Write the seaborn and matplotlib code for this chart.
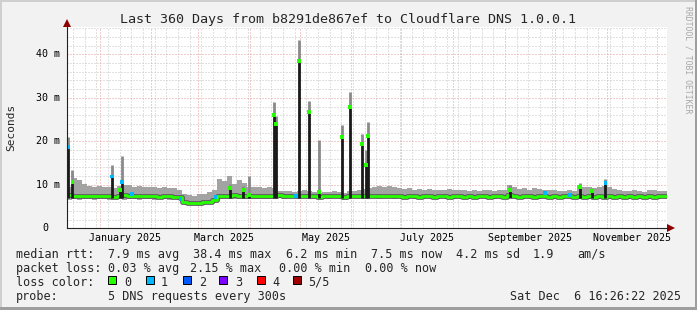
import numpy as np
import pandas as pd
import matplotlib
matplotlib.use("Agg")
import matplotlib.pyplot as plt
import matplotlib.dates as mdates
import matplotlib.transforms as mtransforms
from matplotlib.patches import Rectangle
import seaborn as sns

# ---------------- data ----------------
START = "2024-12-12 07:00"       # left edge of the 360-day window
BUCKET = "3D"                    # consolidation step of the series below

# light smoke (min..max of the 5 pings), ms
smoke_hi = [9.5, 11.5, 11.0, 10.2, 9.8, 9.6, 9.8, 9.5, 9.4, 9.2,
            9.8, 10.0, 9.9, 9.6, 9.8, 9.6, 9.5, 9.6, 9.3, 9.5,
            9.2, 9.3, 8.8, 7.8, 7.6, 7.5, 7.9, 8.0, 8.3, 8.9,
            11.4, 10.8, 12.0, 10.2, 11.0, 10.3, 9.6, 9.4, 9.5, 9.3,
            9.6, 9.3, 8.6, 8.5, 8.6, 8.4, 8.6, 8.7, 8.5, 8.3,
            8.2, 8.3, 8.4, 8.5, 8.4, 8.2, 8.5, 8.6, 8.8, 9.1,
            9.3, 9.6, 9.8, 9.4, 9.7, 9.5, 9.3, 9.0, 9.2, 8.9,
            9.1, 8.8, 9.0, 8.9, 8.7, 8.9, 9.1, 8.8, 8.7, 8.9,
            8.6, 8.8, 8.5, 8.7, 8.8, 8.6, 8.7, 8.9, 10.0, 9.4,
            9.0, 9.2, 8.9, 9.3, 9.0, 8.8, 8.7, 8.8, 8.5, 8.6,
            8.7, 8.5, 10.0, 9.4, 9.6, 9.2, 9.5, 9.8, 9.4, 9.0,
            8.8, 8.6, 8.5, 8.7, 8.6, 8.4, 8.8, 8.7, 8.5, 8.6]
smoke_lo = [6.6, 6.7, 6.6, 6.7, 6.7, 6.6, 6.7, 6.7, 6.6, 6.7,
            6.7, 6.6, 6.7, 6.7, 6.6, 6.7, 6.7, 6.6, 6.7, 6.7,
            6.6, 6.7, 6.5, 5.6, 5.6, 5.5, 5.6, 5.6, 5.7, 6.0,
            6.7, 6.8, 6.7, 6.8, 6.7, 6.8, 6.8, 6.7, 6.8, 6.8,
            6.7, 6.8, 6.9, 6.8, 6.9, 6.9, 6.8, 6.9, 6.9, 6.8,
            6.9, 6.9, 6.8, 6.9, 6.9, 6.6, 6.8, 6.9, 6.9, 6.8,
            6.9, 6.9, 6.8, 6.9, 6.9, 6.8, 6.9, 6.9, 6.9, 6.8,
            6.9, 6.9, 6.9, 6.8, 6.9, 6.9, 6.9, 6.8, 6.9, 6.9,
            6.9, 6.8, 6.9, 6.9, 6.9, 6.8, 6.9, 6.9, 6.9, 6.9,
            6.8, 6.9, 6.9, 6.9, 6.8, 6.9, 6.9, 6.9, 6.8, 6.9,
            6.9, 6.9, 6.8, 6.9, 6.9, 6.9, 6.8, 6.9, 6.9, 6.9,
            6.8, 6.9, 6.9, 6.9, 6.8, 6.9, 6.9, 6.9, 6.9, 6.9]
median_rtt = [7.7, 7.5, 7.4, 7.5, 7.4, 7.4, 7.5, 7.4, 7.4, 7.3,
              7.5, 7.6, 7.5, 7.4, 7.4, 7.5, 7.4, 7.4, 7.3, 7.4,
              7.4, 7.3, 7.1, 6.0, 5.9, 5.9, 5.9, 6.0, 6.1, 6.6,
              7.4, 7.5, 7.4, 7.6, 7.4, 7.5, 7.4, 7.5, 7.4, 7.4,
              7.5, 7.5, 7.6, 7.5, 7.5, 7.4, 7.5, 7.5, 7.4, 7.4,
              7.3, 7.4, 7.4, 7.5, 7.4, 7.2, 7.4, 7.5, 7.4, 7.4,
              7.4, 7.5, 7.4, 7.4, 7.5, 7.4, 7.4, 7.3, 7.4, 7.4,
              7.3, 7.4, 7.4, 7.3, 7.4, 7.4, 7.3, 7.4, 7.4, 7.3,
              7.4, 7.3, 7.4, 7.4, 7.3, 7.4, 7.4, 7.3, 7.6, 7.4,
              7.3, 7.4, 7.4, 7.3, 7.4, 7.4, 7.3, 7.4, 7.3, 7.4,
              7.4, 7.3, 7.5, 7.3, 7.4, 7.3, 7.4, 7.3, 7.4, 7.3,
              7.4, 7.3, 7.4, 7.3, 7.4, 7.3, 7.4, 7.3, 7.4, 7.4]

# short-lived latency spikes: median reached and top of the smoke, ms
spike_time = ["2024-12-13 06:00", "2024-12-15 18:00", "2025-01-08 12:00",
              "2025-01-13 00:00", "2025-01-14 12:00", "2025-03-20 07:00",
              "2025-03-28 02:00", "2025-03-31 14:00", "2025-04-15 07:00",
              "2025-04-16 19:00", "2025-04-30 14:00", "2025-05-06 09:00",
              "2025-05-12 14:00", "2025-05-26 04:00", "2025-05-31 02:00",
              "2025-06-07 04:00", "2025-06-09 14:00", "2025-06-10 19:00",
              "2025-09-04 02:00", "2025-10-16 02:00", "2025-10-23 07:00",
              "2025-10-31 07:00"]
spike_median = [18.7, 10.6, 11.9, 8.9, 10.7, 9.2, 8.8, 7.6, 26.0, 24.0, 38.4,
                26.8, 8.4, 21.0, 27.9, 19.4, 14.5, 21.2, 8.8, 9.5, 8.6, 10.4]
spike_top = [21.0, 13.4, 14.5, 9.5, 16.6, 10.2, 9.8, 12.0, 29.1, 25.8, 43.3,
             29.3, 20.3, 23.7, 31.3, 21.7, 18.0, 24.4, 10.0, 10.4, 9.2, 11.3]
spike_loss = [1, 0, 1, 0, 1, 0, 0, 0, 0, 0, 0,
              0, 0, 0, 0, 0, 0, 0, 0, 0, 0, 1]
SPIKE_BASE = 7.0

# isolated points with packet loss on the median line
loss_time = ["2025-01-20 07:00", "2025-02-18 12:00", "2025-03-11 12:00",
             "2025-04-28 14:00", "2025-09-25 02:00", "2025-10-10 00:00"]
loss_value = [7.8, 6.8, 7.1, 7.4, 8.1, 7.6]
loss_level = [1, 1, 1, 1, 1, 1]

loss_names = ["0", "1", "2", "3", "4", "5/5"]
loss_colors = ["#26ff00", "#00b8ff", "#0059ff", "#7e00ff", "#ff0000", "#a10000"]

month_labels = ["January 2025", "March 2025", "May 2025", "July 2025",
                "September 2025", "November 2025"]
month_label_pos = ["2025-01-16 12:00", "2025-03-16 12:00", "2025-05-16 12:00",
                   "2025-07-16 12:00", "2025-09-16 00:00", "2025-11-16 00:00"]
ytick_vals = [0, 10, 20, 30, 40]
ytick_labels = ["0", "10 m", "20 m", "30 m", "40 m"]

title = "Last 360 Days from b8291de867ef to Cloudflare DNS 1.0.0.1"
legend_rows = [
    [("median rtt:", 16), ("7.9 ms avg", 108), ("38.4 ms max", 193),
     ("6.2 ms min", 286), ("7.5 ms now", 371), ("4.2 ms sd", 456),
     ("1.9", 533), ("am/s", 577)],
    [("packet loss:", 16), ("0.03 % avg", 108), ("2.15 % max", 190),
     ("0.00 % min", 279), ("0.00 % now", 365)],
    [("loss color:", 16)],
    [("probe:", 16), ("5 DNS requests every 300s", 108),
     ("Sat Dec  6 16:26:22 2025", 510)],
]

# ---------------- style ----------------
W, H = 697, 310
sns.set_style("white")
plt.rcParams["font.family"] = ["DejaVu Sans Mono"]
plt.rcParams["lines.scale_dashes"] = False
MONO = "DejaVu Sans Mono"
LEG_FS = 8.5

fig = plt.figure(figsize=(W / 100, H / 100), dpi=100, facecolor="#f2f2f2")
# 3D frame
fig.patches.append(Rectangle((0, 1 - 2 / H), 1, 2 / H, transform=fig.transFigure, fc="#cfcfcf", lw=0))
fig.patches.append(Rectangle((0, 0), 2 / W, 1, transform=fig.transFigure, fc="#cfcfcf", lw=0))
fig.patches.append(Rectangle((0, 0), 1, 3 / H, transform=fig.transFigure, fc="#9e9e9e", lw=0))
fig.patches.append(Rectangle((1 - 2 / W, 0), 2 / W, 1, transform=fig.transFigure, fc="#9e9e9e", lw=0))

L, R, T, B = 66.7, 666.7, 26.7, 228.3
ax = fig.add_axes([L / W, 1 - B / H, (R - L) / W, (B - T) / H])
ax.set_facecolor("white")

times = pd.date_range(START, periods=len(median_rtt) + 1, freq=BUCKET)
hi = np.append(smoke_hi, smoke_hi[-1])
lo = np.append(smoke_lo, smoke_lo[-1])
med = np.append(median_rtt, median_rtt[-1])

ax.fill_between(times, lo, hi, step="post", color="#a3a3a3", lw=0, zorder=2)
df = pd.DataFrame({"t": times, "med": med})
sns.lineplot(data=df, x="t", y="med", ax=ax, drawstyle="steps-post",
             color="#5a5a5a", linewidth=3.4, zorder=3, estimator=None)
sns.lineplot(data=df, x="t", y="med", ax=ax, drawstyle="steps-post",
             color=loss_colors[0], linewidth=2.0, zorder=4, estimator=None)

st = pd.to_datetime(spike_time)
ax.vlines(st, spike_median, spike_top, color="#8a8a8a", lw=2.0, zorder=5)
ax.vlines(st, SPIKE_BASE, spike_median, color="#1a1a1a", lw=2.0, zorder=5)
sp = pd.DataFrame({"t": st, "v": spike_median, "c": [loss_colors[i] for i in spike_loss]})
sns.scatterplot(data=sp, x="t", y="v", ax=ax, marker="s", s=8, c=sp["c"],
                linewidth=0, zorder=6, legend=False)
lp = pd.DataFrame({"t": pd.to_datetime(loss_time), "v": loss_value,
                   "c": [loss_colors[i] for i in loss_level]})
sns.scatterplot(data=lp, x="t", y="v", ax=ax, marker="s", s=8, c=lp["c"],
                linewidth=0, zorder=6, legend=False)

ax.set_xlim(pd.Timestamp(START), pd.Timestamp(START) + pd.Timedelta(days=359.7))
ax.set_ylim(0, (B - T) / 4.35)
ax.set_xlabel("")
ax.set_ylabel("")

ax.xaxis.set_major_locator(mdates.MonthLocator())
ax.xaxis.set_minor_locator(mdates.WeekdayLocator(byweekday=mdates.MO))
ax.set_yticks(ytick_vals)
ax.set_yticks(np.arange(0, 47, 2), minor=True)
ax.tick_params(which="both", length=0, labelleft=False, labelbottom=False)
dots = (0, (0.72, 1.44))
ax.grid(which="minor", color="#c4c4c4", lw=0.72, linestyle=dots)
ax.grid(which="major", color="#e89a9a", lw=0.72, linestyle=dots)
ax.set_axisbelow(True)

for s in ["top", "right"]:
    ax.spines[s].set_visible(False)
for s in ["left", "bottom"]:
    ax.spines[s].set_color("#222222")
    ax.spines[s].set_linewidth(0.8)
    ax.spines[s].set_zorder(7)

# axis arrows
ax.plot([0], [1.018], marker="^", ms=5.5, color="#8b0000", transform=ax.transAxes,
        clip_on=False, mew=0)
ax.plot([1.007], [0], marker=">", ms=5.5, color="#8b0000", transform=ax.transAxes,
        clip_on=False, mew=0)

# tick labels
ytr = mtransforms.blended_transform_factory(fig.transFigure, ax.transData)
for v, lab in zip(ytick_vals, ytick_labels):
    xr = 48 if lab == "0" else 60
    ax.text(xr / W, v, lab, transform=ytr, ha="right", va="center",
            fontsize=7.2, family=MONO, color="black")
xtr = mtransforms.blended_transform_factory(ax.transData, fig.transFigure)
for pos, lab in zip(month_label_pos, month_labels):
    ax.text(pd.Timestamp(pos), 1 - 238 / H, lab, transform=xtr, ha="center",
            va="center", fontsize=7.2, family=MONO, color="black")

# title, unit label, watermark
fig.text(0.5, 1 - 19 / H, title, ha="center", va="center", fontsize=9.6, family=MONO)
fig.text(11 / W, 1 - 127.5 / H, "Seconds", rotation=90, ha="center", va="center",
         fontsize=8.0, family=MONO)
fig.text(688 / W, 1 - 60 / H, "RRDTOOL / TOBI OETIKER", rotation=-90, ha="center",
         va="center", fontsize=5.9, family=MONO, color="#a8a8a8")

# legend
row_y = [254.3, 268.3, 282.3, 296.7]
for row, yc in zip(legend_rows, row_y):
    for txt, x in row:
        fig.text(x / W, 1 - yc / H, txt, ha="left", va="center", fontsize=LEG_FS, family=MONO)
box_x = [108, 146, 183, 219, 257, 293]
lab_x = [124, 161, 199, 235, 272, 308]
for bx, lx, col, name in zip(box_x, lab_x, loss_colors, loss_names):
    fig.patches.append(Rectangle((bx / W, 1 - 284.3 / H), 7.5 / W, 8 / H,
                                 transform=fig.transFigure, fc=col, ec="black", lw=0.7))
    fig.text(lx / W, 1 - row_y[2] / H, name, ha="left", va="center", fontsize=LEG_FS, family=MONO)

fig.savefig("out.png", dpi=100, facecolor=fig.get_facecolor())
